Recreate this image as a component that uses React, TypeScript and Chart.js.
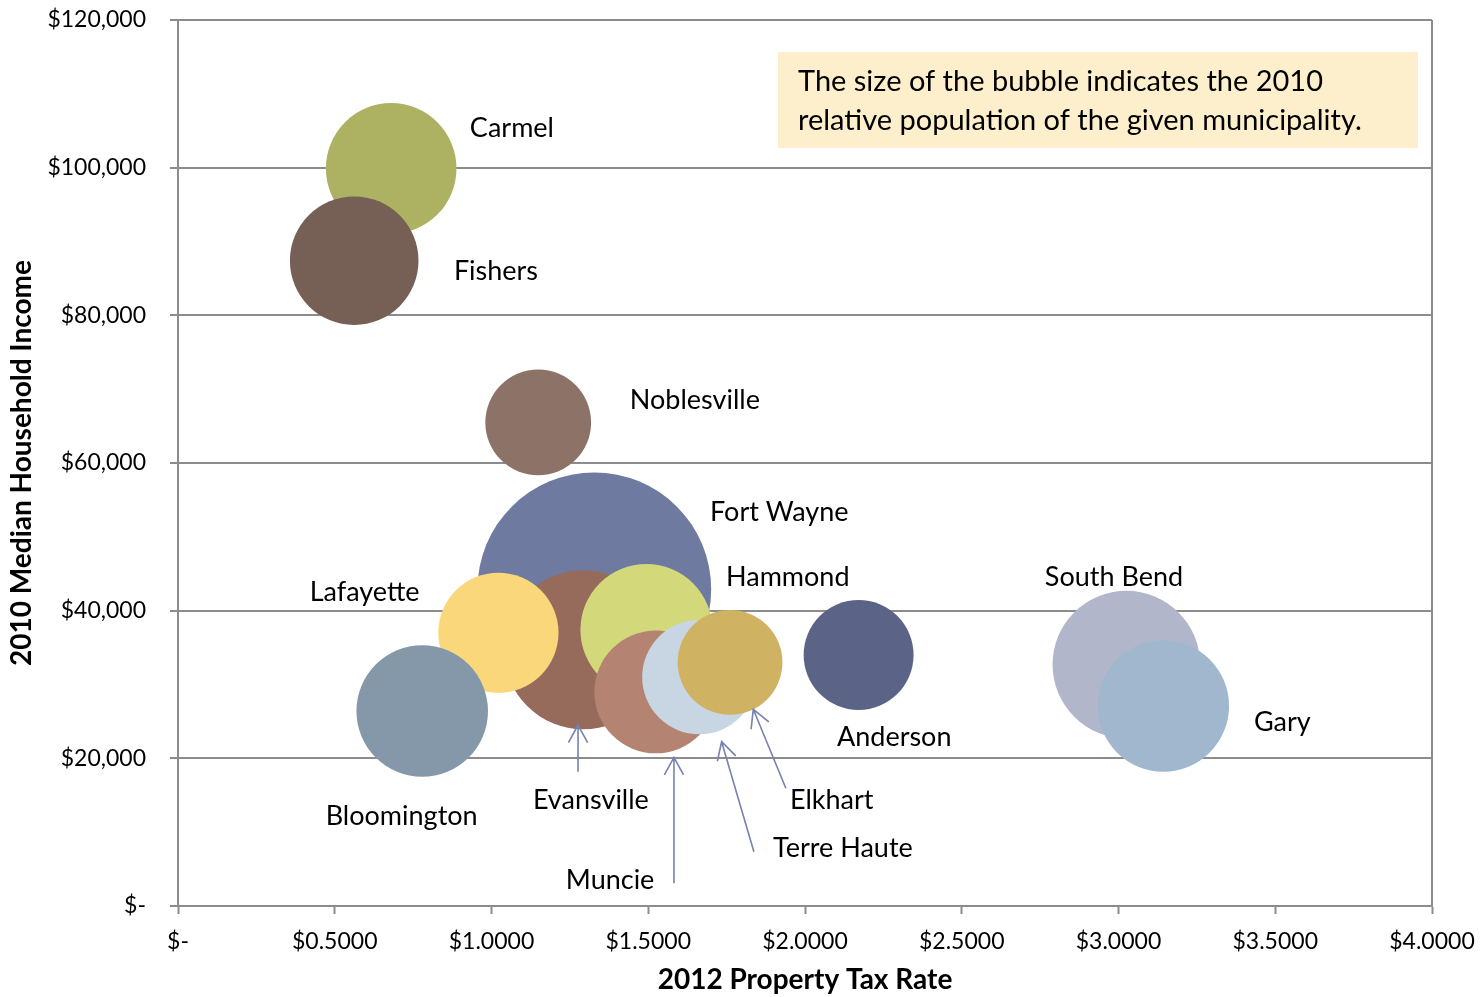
import React, { useEffect, useRef } from "react";
import { Chart, registerables } from "chart.js";

Chart.register(...registerables);

// ---- Data ----
const cities = [
  "Fort Wayne", "Carmel", "Fishers", "Noblesville", "Evansville", "Lafayette",
  "Hammond", "Bloomington", "Muncie", "Terre Haute", "Elkhart", "Anderson",
  "South Bend", "Gary",
];
const taxRates = [1.328, 0.68, 0.562, 1.149, 1.293, 1.022, 1.494, 0.779, 1.524, 1.663, 1.761, 2.171, 3.025, 3.143];
const medianIncomes = [42900, 99900, 87400, 65500, 34700, 37000, 37400, 26400, 29000, 31000, 33000, 34000, 32700, 27100];
const populations = [253691, 79191, 76794, 51969, 117429, 67140, 80830, 80405, 70085, 60785, 50949, 56129, 101168, 80294];
const bubbleColors = [
  "#6F7AA0", "#ADB262", "#765F55", "#8C7267", "#966B5B", "#F9D77A",
  "#D3D97A", "#8598A9", "#B58371", "#C8D5E2", "#CFB262", "#5B6487",
  "#B2B6CB", "#A0B7CE",
];

// label anchor positions (data units), left-aligned text
const labelX = [1.697, 0.931, 0.88, 1.441, 1.132, 0.42, 1.748, 0.471, 1.237, 1.898, 1.952, 2.102, 2.765, 3.432];
const labelY = [53350, 105350, 86000, 68500, 14350, 42500, 44550, 12200, 3520, 7850, 14350, 22900, 44550, 24900];

// leader arrows (data units): Evansville, Muncie, Terre Haute, Elkhart
const arrowTailX = [1.276, 1.582, 1.837, 1.939];
const arrowTailY = [18190, 3070, 7350, 15940];
const arrowTipX = [1.276, 1.582, 1.734, 1.835];
const arrowTipY = [24510, 20140, 22250, 26640];

const xTicksLabel = (v: number) => (v === 0 ? "$-" : "$" + v.toFixed(4));
const yTicksLabel = (v: number) => (v === 0 ? "$-" : "$" + v.toLocaleString("en-US"));

const noteLines = [
  "The size of the bubble indicates the 2010",
  "relative population of the given municipality.",
];

const FONT = "Lato, 'DejaVu Sans', sans-serif";
const BUBBLE_SCALE = 0.232;

const overlayPlugin = {
  id: "overlay",
  beforeDatasetsDraw(chart: any) {
    const { ctx, chartArea } = chart;
    ctx.save();
    ctx.strokeStyle = "#8c8c8c";
    ctx.lineWidth = 2;
    ctx.beginPath();
    ctx.moveTo(chartArea.right, chartArea.top);
    ctx.lineTo(chartArea.right, chartArea.bottom);
    ctx.stroke();
    // note box
    const bx = chartArea.right - 654;
    const by = chartArea.top + 32;
    ctx.fillStyle = "#FDEFCB";
    ctx.fillRect(bx, by, 640, 96);
    ctx.fillStyle = "#000";
    ctx.font = "29px " + FONT;
    ctx.textBaseline = "middle";
    ctx.textAlign = "left";
    ctx.fillText(noteLines[0], bx + 20, by + 30);
    ctx.fillText(noteLines[1], bx + 20, by + 69);
    ctx.restore();
  },
  afterDatasetsDraw(chart: any) {
    const { ctx } = chart;
    const xs = chart.scales.x;
    const ys = chart.scales.y;
    ctx.save();
    ctx.fillStyle = "#000";
    ctx.font = "27px " + FONT;
    ctx.textBaseline = "middle";
    ctx.textAlign = "left";
    cities.forEach((c, i) => {
      ctx.fillText(c, xs.getPixelForValue(labelX[i]), ys.getPixelForValue(labelY[i]));
    });
    ctx.strokeStyle = "#7682B0";
    ctx.lineWidth = 1.6;
    for (let i = 0; i < arrowTailX.length; i++) {
      const x0 = xs.getPixelForValue(arrowTailX[i]);
      const y0 = ys.getPixelForValue(arrowTailY[i]);
      const x1 = xs.getPixelForValue(arrowTipX[i]);
      const y1 = ys.getPixelForValue(arrowTipY[i]);
      const ang = Math.atan2(y1 - y0, x1 - x0);
      const len = 20;
      const spread = 0.5;
      ctx.beginPath();
      ctx.moveTo(x0, y0);
      ctx.lineTo(x1, y1);
      ctx.moveTo(x1 - len * Math.cos(ang - spread), y1 - len * Math.sin(ang - spread));
      ctx.lineTo(x1, y1);
      ctx.lineTo(x1 - len * Math.cos(ang + spread), y1 - len * Math.sin(ang + spread));
      ctx.stroke();
    }
    ctx.restore();
  },
};

export default function App() {
  const ref = useRef<HTMLCanvasElement>(null);
  useEffect(() => {
    document.body.style.margin = "0";
    const canvas = ref.current!;
    const chart = new Chart(canvas, {
      type: "bubble",
      data: {
        datasets: [
          {
            data: cities.map((_, i) => ({
              x: taxRates[i],
              y: medianIncomes[i],
              r: BUBBLE_SCALE * Math.sqrt(populations[i]),
            })),
            backgroundColor: bubbleColors,
            borderWidth: 0,
            borderColor: "rgba(0,0,0,0)",
            clip: false,
          },
        ],
      },
      options: {
        responsive: false,
        animation: false,
        events: [],
        layout: { autoPadding: false, padding: { top: 20, right: 49, left: 0, bottom: 0 } },
        plugins: {
          legend: { display: false },
          tooltip: { enabled: false },
        },
        scales: {
          x: {
            type: "linear",
            min: 0,
            max: 4,
            afterFit: (s: any) => {
              s.height = 91;
              s.paddingLeft = 0;
              s.paddingRight = 0;
            },
            ticks: {
              stepSize: 0.5,
              callback: (v: any) => xTicksLabel(Number(v)),
              font: { family: FONT, size: 23 },
              color: "#000",
              padding: 14,
              maxRotation: 0,
            },
            grid: {
              drawOnChartArea: false,
              drawTicks: true,
              tickLength: 8,
              tickColor: "#8c8c8c",
              tickWidth: 2,
            },
            border: { color: "#8c8c8c", width: 2 },
            title: {
              display: true,
              text: "2012 Property Tax Rate",
              font: { family: FONT, size: 28, weight: "bold" },
              color: "#000",
              padding: { top: 4, bottom: 0 },
            },
          },
          y: {
            type: "linear",
            min: 0,
            max: 120000,
            afterFit: (s: any) => {
              s.width = 178;
              s.paddingTop = 0;
              s.paddingBottom = 0;
            },
            ticks: {
              stepSize: 20000,
              callback: (v: any) => yTicksLabel(Number(v)),
              font: { family: FONT, size: 23 },
              color: "#000",
              padding: 24,
            },
            grid: {
              color: "#8c8c8c",
              lineWidth: 2,
              tickLength: 8,
              tickColor: "#8c8c8c",
            },
            border: { color: "#8c8c8c", width: 2 },
            title: {
              display: true,
              text: "2010 Median Household Income",
              font: { family: FONT, size: 28, weight: "bold" },
              color: "#000",
              padding: { top: 5, bottom: 0 },
            },
          },
        },
      },
      plugins: [overlayPlugin],
    } as any);
    return () => chart.destroy();
  }, []);
  return (
    <div style={{ width: 1481, height: 997 }}>
      <canvas ref={ref} width={1481} height={997} />
    </div>
  );
}
